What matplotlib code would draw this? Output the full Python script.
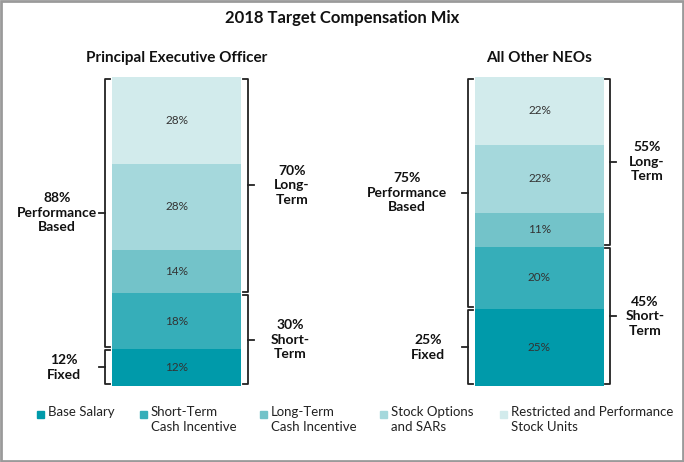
import numpy as np
import matplotlib
matplotlib.use("Agg")
import matplotlib.pyplot as plt
from matplotlib import transforms
from matplotlib.patches import Rectangle

plt.rcParams['font.family'] = ['Lato', 'DejaVu Sans']

# data
categories = ["Base Salary", "Short-Term\nCash Incentive", "Long-Term\nCash Incentive",
              "Stock Options\nand SARs", "Restricted and Performance\nStock Units"]
colors = ["#009aaa", "#36aeb9", "#73c3c9", "#a5d8dc", "#d2ebec"]
peo_values = [12, 18, 14, 28, 28]
neo_values = [25, 20, 11, 22, 22]
chart_titles = ["Principal Executive Officer", "All Other NEOs"]

W, H = 684, 462
fig = plt.figure(figsize=(W / 100, H / 100), dpi=100)


def px_axes(x0, y0, x1, y1):
    return fig.add_axes([x0 / W, 1 - y1 / H, (x1 - x0) / W, (y1 - y0) / H])


def bracket(ax, xpx, y0, y1, side, label, label_x):
    # x in pixels, y in data units
    tr = transforms.blended_transform_factory(fig.dpi_scale_trans, ax.transData)
    gap = 0.5
    y0g, y1g = y0 + gap, y1 - gap
    end = 5 if side == "left" else -5
    tick = -6 if side == "left" else 6
    xs = np.array([xpx + end, xpx, xpx, xpx + end]) / 100
    ax.plot(xs, [y0g, y0g, y1g, y1g], color="#222222", lw=1.3, transform=tr,
            clip_on=False, solid_joinstyle="round")
    ym = (y0 + y1) / 2
    ax.plot(np.array([xpx, xpx + tick]) / 100, [ym, ym], color="#222222", lw=1.3,
            transform=tr, clip_on=False)
    ax.text(label_x / 100, ym, label, transform=tr, ha="center", va="center",
            multialignment="center", fontsize=10, fontweight="bold",
            color="#111111", linespacing=1.25)


def draw_chart(bar_x0, values, title, layout):
    ax = px_axes(bar_x0, 77, bar_x0 + 129, 386)
    bottoms = np.concatenate([[0], np.cumsum(values)[:-1]])
    ax.bar([0] * len(values), values, bottom=bottoms, width=1.0, color=colors,
           edgecolor="none")
    for v, b in zip(values, bottoms):
        ax.text(0, b + v / 2, f"{v}%", ha="center", va="center", fontsize=8.5,
                color="#333333")
    ax.set_xlim(-0.5, 0.5)
    ax.set_ylim(0, 100)
    ax.axis("off")
    ax.text(0.5, 1.0 + 19 / 309, title, transform=ax.transAxes, ha="center",
            va="center", fontsize=11, fontweight="bold", color="#111111")

    fixed = values[0]
    short = values[0] + values[1]
    lx, rx, lab = layout
    bracket(ax, lx, 0, fixed, "left", f"{fixed}%\nFixed", lab[0])
    bracket(ax, lx, fixed, 100, "left", f"{100 - fixed}%\nPerformance\nBased", lab[1])
    bracket(ax, rx, 0, short, "right", f"{short}%\nShort-\nTerm", lab[2])
    bracket(ax, rx, short, 100, "right", f"{100 - short}%\nLong-\nTerm", lab[3])
    return ax


draw_chart(112, peo_values, chart_titles[0], (105, 248, (64, 57, 290, 292)))
draw_chart(475, neo_values, chart_titles[1], (468, 610, (428, 407, 645, 647)))

fig.text(342 / W, 1 - 18 / H, "2018 Target Compensation Mix", ha="center",
         va="center", fontsize=12, fontweight="bold", color="#111111")

# legend
leg_x = [37, 140, 260, 380, 500]
for x, c, name in zip(leg_x, colors, categories):
    fig.patches.append(Rectangle((x / W, 1 - 418 / H), 7 / W, 7 / H, color=c,
                                 transform=fig.transFigure, figure=fig))
    fig.text((x + 11) / W, 1 - 406 / H, name, ha="left", va="top", fontsize=9.5,
             color="#222222", linespacing=1.3)

# frame
fig.patches.append(Rectangle((0.002, 0.003), 0.996, 0.994, fill=False,
                             edgecolor="#9a9a9a", lw=2, transform=fig.transFigure,
                             figure=fig))

fig.savefig("out.png", dpi=100)
